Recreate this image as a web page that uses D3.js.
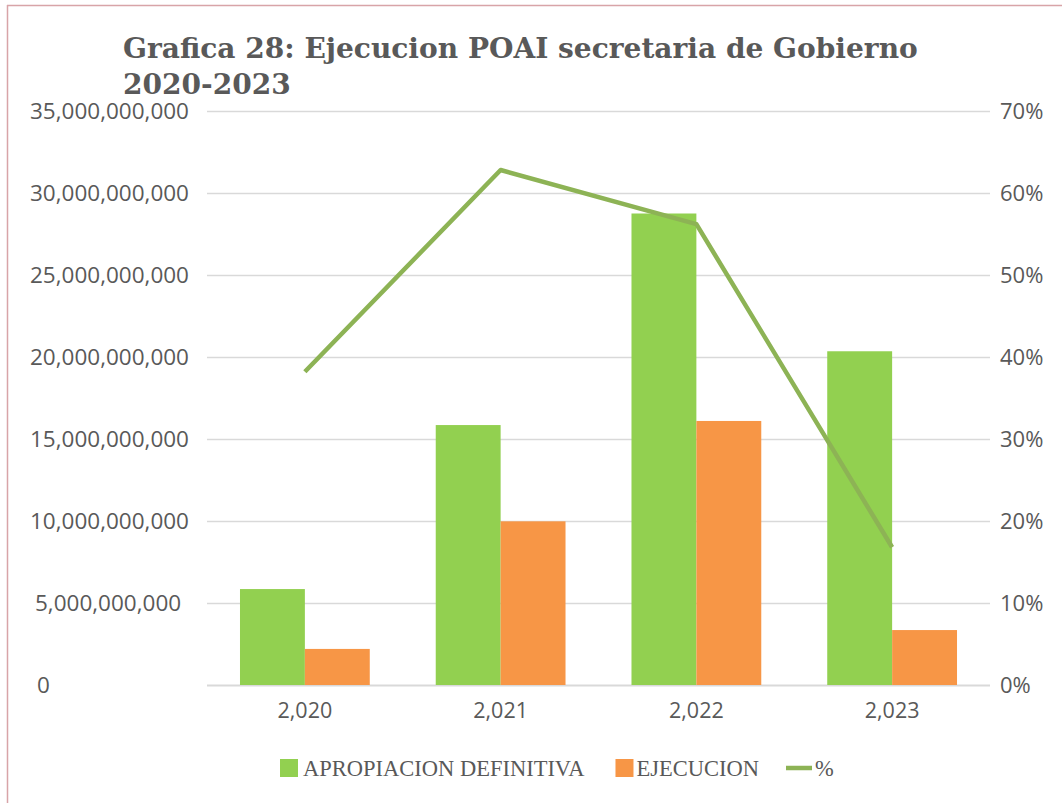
<!DOCTYPE html>
<html>
<head>
<meta charset="utf-8">
<script src="https://cdn.jsdelivr.net/npm/d3@7"></script>
<style>
  body { margin: 0; background: #fff; }
  svg { display: block; }
</style>
</head>
<body>
<div class="root"></div>
<script>
// data
var years = ["2,020", "2,021", "2,022", "2,023"];
var apropiacion = [5850000000, 15850000000, 28750000000, 20350000000];
var ejecucion = [2200000000, 9980000000, 16100000000, 3350000000];
var porcentaje = [0.382, 0.628, 0.562, 0.168];
var leftTicks = [0, 5e9, 10e9, 15e9, 20e9, 25e9, 30e9, 35e9];
var rightTicks = [0, 0.1, 0.2, 0.3, 0.4, 0.5, 0.6, 0.7];

var width = 1062, height = 803;
var plot = {left: 207, right: 990, top: 111, bottom: 685};
var textColor = "#595959";
var tickFont = "'Open Sans', sans-serif";

var svg = d3.select(".root").append("svg")
  .attr("width", width)
  .attr("height", height);

// frame (only top and left edges are visible)
svg.append("line").attr("x1", 7).attr("x2", width).attr("y1", 5.5).attr("y2", 5.5)
  .attr("stroke", "#d8a4a8").attr("stroke-width", 1.5);
svg.append("line").attr("x1", 7.5).attr("x2", 7.5).attr("y1", 5).attr("y2", height)
  .attr("stroke", "#d8a4a8").attr("stroke-width", 1.5);

// title, sized so the first line spans about the same width as the picture
var title = svg.append("text")
  .attr("font-family", "'DejaVu Serif', serif")
  .attr("font-weight", "bold")
  .attr("font-size", 30)
  .attr("fill", textColor);
var tl1 = title.append("tspan").attr("x", 123).attr("y", 58).text("Grafica 28: Ejecucion POAI secretaria de Gobierno");
title.append("tspan").attr("x", 123).attr("y", 94).text("2020-2023");
var tw = tl1.node().getComputedTextLength();
title.attr("font-size", 30 * 795 / tw);

var x0 = d3.scaleBand()
  .domain(years)
  .range([plot.left, plot.right])
  .paddingInner(0.337)
  .paddingOuter(0.1685);

var x1 = d3.scaleBand()
  .domain(["apropiacion", "ejecucion"])
  .range([0, x0.bandwidth()]);

var y = d3.scaleLinear().domain([0, 35e9]).range([plot.bottom, plot.top]);
var y2 = d3.scaleLinear().domain([0, 0.7]).range([plot.bottom, plot.top]);

// gridlines
svg.append("g").selectAll("line")
  .data(leftTicks)
  .enter().append("line")
  .attr("x1", plot.left).attr("x2", plot.right)
  .attr("y1", function (d) { return Math.round(y(d)) + 0.5; })
  .attr("y2", function (d) { return Math.round(y(d)) + 0.5; })
  .attr("stroke", "#d9d9d9")
  .attr("stroke-width", function (d) { return d === 0 ? 2 : 1.5; });

// left axis labels (left aligned as in the picture)
var fmt = d3.format(",");
svg.append("g").selectAll("text")
  .data(leftTicks)
  .enter().append("text")
  .attr("x", function (d) { return d === 0 ? 37 : (d >= 1e10 ? 30 : 35); })
  .attr("y", function (d) { return y(d) + 8; })
  .attr("font-family", tickFont)
  .attr("font-size", 22.5)
  .attr("fill", textColor)
  .text(function (d) { return fmt(d); });

// right axis
var rightAxis = d3.axisRight(y2)
  .tickValues(rightTicks)
  .tickSize(0)
  .tickPadding(10)
  .tickFormat(d3.format(".0%"));
var ra = svg.append("g")
  .attr("transform", "translate(" + plot.right + ",0)")
  .call(rightAxis);
ra.select(".domain").remove();
ra.selectAll("text")
  .attr("font-family", tickFont)
  .attr("font-size", 22)
  .attr("fill", textColor);

// bars
var groups = svg.append("g").selectAll("g")
  .data(years)
  .enter().append("g")
  .attr("transform", function (d) { return "translate(" + x0(d) + ",0)"; });

groups.append("rect")
  .attr("x", x1("apropiacion"))
  .attr("width", x1.bandwidth())
  .attr("y", function (d, i) { return y(apropiacion[i]); })
  .attr("height", function (d, i) { return y(0) - y(apropiacion[i]); })
  .attr("fill", "#92d050");

groups.append("rect")
  .attr("x", x1("ejecucion"))
  .attr("width", x1.bandwidth())
  .attr("y", function (d, i) { return y(ejecucion[i]); })
  .attr("height", function (d, i) { return y(0) - y(ejecucion[i]); })
  .attr("fill", "#f79646");

// category labels
var xAxis = d3.axisBottom(x0).tickSize(0).tickPadding(18);
var xa = svg.append("g")
  .attr("transform", "translate(0," + plot.bottom + ")")
  .call(xAxis);
xa.select(".domain").remove();
xa.selectAll("text")
  .attr("font-family", tickFont)
  .attr("font-size", 21.5)
  .attr("fill", textColor);

// % line
var line = d3.line()
  .x(function (d, i) { return x0(years[i]) + x0.bandwidth() / 2; })
  .y(function (d) { return y2(d); });

svg.append("path")
  .datum(porcentaje)
  .attr("d", line)
  .attr("fill", "none")
  .attr("stroke", "#8db355")
  .attr("stroke-width", 4.5)
  .attr("stroke-linejoin", "round");

// legend
var legendFont = "'Liberation Serif', serif";
var legendSize = 22.5;
var legend = svg.append("g").attr("transform", "translate(0,768)");
var lx = 280;

legend.append("rect").attr("x", lx).attr("y", -9).attr("width", 18).attr("height", 18).attr("fill", "#92d050");
var t1 = legend.append("text").attr("x", lx + 23).attr("y", 8)
  .attr("font-family", legendFont).attr("font-size", legendSize).attr("fill", textColor)
  .text("APROPIACION DEFINITIVA");
lx = lx + 23 + t1.node().getComputedTextLength() + 31;

legend.append("rect").attr("x", lx).attr("y", -9).attr("width", 18).attr("height", 18).attr("fill", "#f79646");
var t2 = legend.append("text").attr("x", lx + 21).attr("y", 8)
  .attr("font-family", legendFont).attr("font-size", legendSize).attr("fill", textColor)
  .text("EJECUCION");
lx = lx + 21 + t2.node().getComputedTextLength() + 27;

legend.append("line").attr("x1", lx).attr("x2", lx + 26).attr("y1", 0).attr("y2", 0)
  .attr("stroke", "#8db355").attr("stroke-width", 4.5);
legend.append("text").attr("x", lx + 29).attr("y", 8)
  .attr("font-family", legendFont).attr("font-size", legendSize).attr("fill", textColor)
  .text("%");
</script>
</body>
</html>
